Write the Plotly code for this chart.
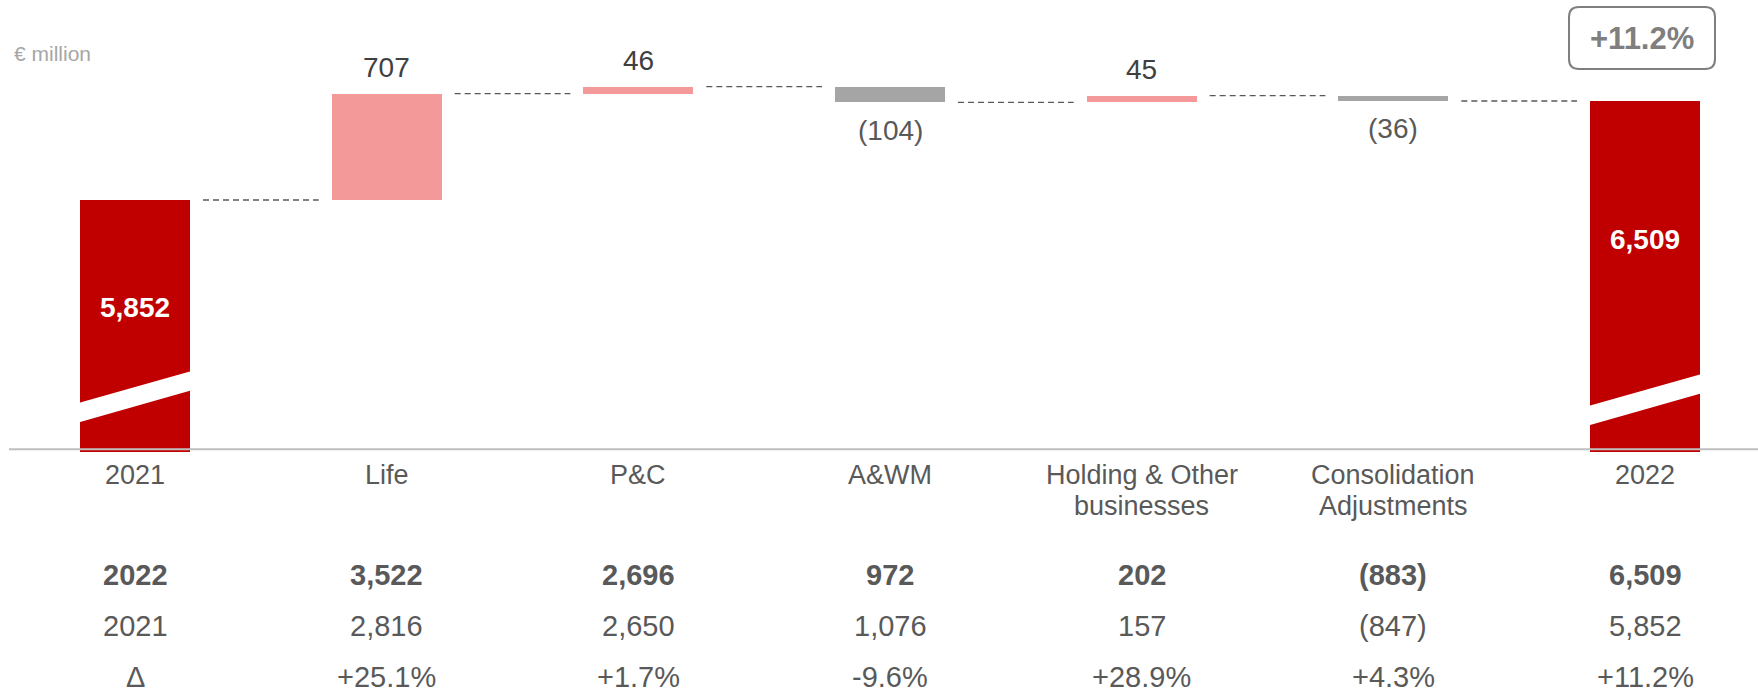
import plotly.graph_objects as go

# ---------------- data ----------------
categories = ["2021", "Life", "P&C", "A&WM", "Holding & Other<br>businesses",
              "Consolidation<br>Adjustments", "2022"]
start_total = 5852
deltas = [707, 46, -104, 45, -36]
end_total = 6509
row_labels = ["2022", "2021", "Δ"]
values_2022 = [3522, 2696, 972, 202, -883, 6509]
values_2021 = [2816, 2650, 1076, 157, -847, 5852]
delta_pct = [25.1, 1.7, -9.6, 28.9, 4.3, 11.2]
total_change_label = "+11.2%"
unit_label = "€ million"

# ---------------- style / geometry ----------------
RED = "#C00000"
PINK = "#F4999A"
GREY = "#A5A5A5"
TXT = "#595959"
TXT_DARK = "#404040"
FONT = "Liberation Sans, Arial, sans-serif"

W, H = 1758, 688
L, R, T = 9, 0, 0
PLOT_BOTTOM = 452
B = H - PLOT_BOTTOM
PLOT_H = PLOT_BOTTOM - T
UNITS_PER_PX = 6.645
Y_MIN = 4177.5
Y_MAX = Y_MIN + PLOT_H * UNITS_PER_PX
X_MIN, X_MAX = -0.5007, 6.449
BAR_W = 0.437
PX_PER_X = (W - L - R) / (X_MAX - X_MIN)


def py(px):
    return (PLOT_BOTTOM - px) / PLOT_H


def px_x(px):
    return (px - L) / (W - L - R)


def fmt(v):
    return f"({abs(v):,})" if v < 0 else f"{v:,}"


# ---------------- bars ----------------
n = len(categories)
xs = list(range(n))
bases, heights, colors = [0], [start_total], [RED]
levels = [start_total]
level = start_total
for d in deltas:
    bases.append(level)
    heights.append(d)
    colors.append(PINK if d >= 0 else GREY)
    level += d
    levels.append(level)
bases.append(0)
heights.append(end_total)
colors.append(RED)

fig = go.Figure()
fig.add_trace(go.Bar(x=xs, y=heights, base=bases, width=BAR_W,
                     marker=dict(color=colors, line=dict(width=0)),
                     hoverinfo="skip", showlegend=False))

# connectors
gap = 13 / PX_PER_X
cx, cy = [], []
for i in range(n - 1):
    cx += [i + BAR_W / 2 + gap, i + 1 - BAR_W / 2 - gap, None]
    cy += [levels[i], levels[i], None]
fig.add_trace(go.Scatter(x=cx, y=cy, mode="lines",
                         line=dict(color=TXT, width=1.3, dash="6px,4px"),
                         hoverinfo="skip", showlegend=False))

annotations = []
shapes = []

# delta labels
for i, d in enumerate(deltas, start=1):
    if d >= 0:
        annotations.append(dict(x=i, y=bases[i] + d, xref="x", yref="y", text=fmt(d),
                                showarrow=False, yshift=26, xanchor="center", yanchor="middle",
                                font=dict(size=28, color=TXT_DARK, family=FONT)))
    else:
        annotations.append(dict(x=i, y=bases[i] + d, xref="x", yref="y", text=fmt(d),
                                showarrow=False, yshift=-28, xanchor="center", yanchor="middle",
                                font=dict(size=28, color=TXT, family=FONT)))

# total labels (white, bold, inside)
for i, v, pix in [(0, start_total, 307), (n - 1, end_total, 240)]:
    annotations.append(dict(x=i, y=py(pix), xref="x", yref="paper",
                            text=f"<b>{fmt(v)}</b>", showarrow=False,
                            xanchor="center", yanchor="middle",
                            font=dict(size=28, color="white", family=FONT)))

# axis-break stripes on total bars
for i, off in [(0, 0), (n - 1, 3)]:
    xl = i - BAR_W / 2 - 0.01
    xr = i + BAR_W / 2 + 0.01
    path = (f"M {xl},{py(403.3 + off)} L {xr},{py(370.7 + off)} "
            f"L {xr},{py(390 + off)} L {xl},{py(422.7 + off)} Z")
    shapes.append(dict(type="path", xref="x", yref="paper", path=path,
                       fillcolor="white", line=dict(width=0), layer="above"))

# baseline
shapes.append(dict(type="line", xref="paper", yref="paper", x0=0, x1=1,
                   y0=py(449.3), y1=py(449.3), line=dict(color="#BFBFBF", width=2),
                   layer="above"))

# category labels
for i, c in enumerate(categories):
    for k, line in enumerate(c.split("<br>")):
        annotations.append(dict(x=i, y=py(475 + 31 * k), xref="x", yref="paper",
                                text=line, showarrow=False, xanchor="center", yanchor="middle",
                                font=dict(size=27, color=TXT, family=FONT)))

# table rows
rows = [
    [f"<b>{row_labels[0]}</b>"] + [f"<b>{fmt(v)}</b>" for v in values_2022],
    [row_labels[1]] + [fmt(v) for v in values_2021],
    [row_labels[2]] + [f"{v:+.1f}%" for v in delta_pct],
]
row_px = [575, 626, 677]
for r, cells in enumerate(rows):
    for i, t in enumerate(cells):
        annotations.append(dict(x=i, y=py(row_px[r]), xref="x", yref="paper",
                                text=t, showarrow=False, xanchor="center", yanchor="middle",
                                font=dict(size=29, color=TXT, family=FONT)))

# unit label
annotations.append(dict(x=px_x(12), y=py(53), xref="paper", yref="paper",
                        text=unit_label, showarrow=False, xanchor="left", yanchor="middle",
                        font=dict(size=21, color="#A6A6A6", family=FONT)))

# rounded box with total change
bx0, bx1, by0, by1, rr = 1569, 1715, 7, 69, 10


def P(x, y):
    return f"{px_x(x)},{py(y)}"


box = (f"M {P(bx0 + rr, by0)} L {P(bx1 - rr, by0)} Q {P(bx1, by0)} {P(bx1, by0 + rr)} "
       f"L {P(bx1, by1 - rr)} Q {P(bx1, by1)} {P(bx1 - rr, by1)} "
       f"L {P(bx0 + rr, by1)} Q {P(bx0, by1)} {P(bx0, by1 - rr)} "
       f"L {P(bx0, by0 + rr)} Q {P(bx0, by0)} {P(bx0 + rr, by0)} Z")
shapes.append(dict(type="path", xref="paper", yref="paper", path=box,
                   fillcolor="rgba(0,0,0,0)", line=dict(color="#7F7F7F", width=2),
                   layer="below"))
annotations.append(dict(x=px_x((bx0 + bx1) / 2), y=py(39), xref="paper", yref="paper",
                        text=f"<b>{total_change_label}</b>", showarrow=False,
                        xanchor="center", yanchor="middle",
                        font=dict(size=31, color="#7F7F7F", family=FONT)))

fig.update_layout(
    width=W, height=H,
    margin=dict(l=L, r=R, t=T, b=B, pad=0),
    paper_bgcolor="white", plot_bgcolor="rgba(0,0,0,0)",
    bargap=0,
    xaxis=dict(range=[X_MIN, X_MAX], showticklabels=False, showgrid=False,
               zeroline=False, showline=False, fixedrange=True),
    yaxis=dict(range=[Y_MIN, Y_MAX], showticklabels=False, showgrid=False,
               zeroline=False, showline=False, fixedrange=True),
    annotations=annotations,
    shapes=shapes,
    showlegend=False,
    font=dict(family=FONT),
)

fig.write_html("out.html", config={"displayModeBar": False},
               post_script="document.body.style.margin='0';document.body.style.overflow='hidden';")
